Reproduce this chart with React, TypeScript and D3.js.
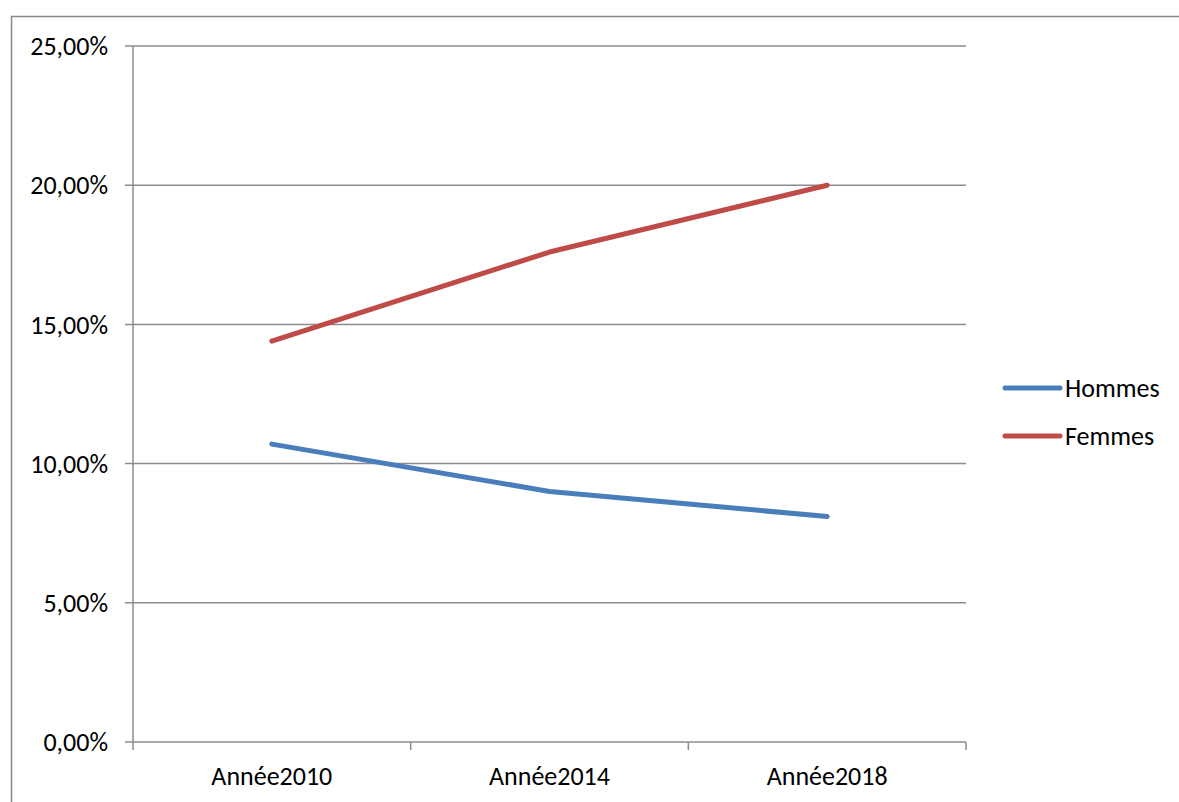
import React from "react";
import * as d3 from "d3";

const categories = ["Année2010", "Année2014", "Année2018"];
const hommes = [10.7, 9.0, 8.1];
const femmes = [14.4, 17.6, 20.0];
const yTicks = [0, 5, 10, 15, 20, 25];
const seriesNames = ["Hommes", "Femmes"];
const seriesColors = ["#4A7EBB", "#BE4B48"];

export default function App() {
  const W = 1179, H = 802;
  const left = 133, right = 966, top = 46, bottom = 742;
  const x = d3.scaleBand().domain(categories).range([left, right]);
  const y = d3.scaleLinear().domain([0, 25]).range([bottom, top]);
  const line = d3.line<number>()
    .x((_, i) => (x(categories[i]) as number) + x.bandwidth() / 2)
    .y((d) => y(d));
  const series = [hommes, femmes];
  const font = "Carlito, Calibri, Lato, 'Liberation Sans', Arial, sans-serif";
  const fmt = (v: number) => v.toFixed(2).replace(".", ",") + "%";
  const boundaries = [...categories.map((c) => x(c) as number), right];
  return (
    <svg width={W} height={H} style={{ position: "absolute", left: 0, top: 0, background: "#fff" }}>
      <rect x={11.5} y={16.5} width={W + 10} height={H + 10} fill="#fff" stroke="#888" strokeWidth={1.5} />
      {yTicks.map((t) => (
        <g key={t}>
          <line x1={left - 8} x2={right} y1={y(t)} y2={y(t)} stroke="#8c8c8c" strokeWidth={1.5} />
          <text x={108} y={y(t)} dy="0.35em" textAnchor="end" fontFamily={font} fontSize={26} fill="#000">{fmt(t)}</text>
        </g>
      ))}
      <line x1={left} x2={left} y1={top} y2={bottom} stroke="#8c8c8c" strokeWidth={1.5} />
      {boundaries.map((b, i) => (
        <line key={i} x1={b} x2={b} y1={bottom} y2={bottom + 8} stroke="#8c8c8c" strokeWidth={1.5} />
      ))}
      {categories.map((c) => (
        <text key={c} x={(x(c) as number) + x.bandwidth() / 2} y={785} textAnchor="middle" fontFamily={font} fontSize={26} fill="#000">{c}</text>
      ))}
      {series.map((s, i) => (
        <path key={i} d={line(s) as string} fill="none" stroke={seriesColors[i]} strokeWidth={5} strokeLinecap="round" strokeLinejoin="round" />
      ))}
      {seriesNames.map((n, i) => (
        <g key={n}>
          <line x1={1005} x2={1060} y1={388 + i * 48} y2={388 + i * 48} stroke={seriesColors[i]} strokeWidth={5} strokeLinecap="round" />
          <text x={1065} y={388 + i * 48} dy="0.35em" fontFamily={font} fontSize={26} fill="#000">{n}</text>
        </g>
      ))}
    </svg>
  );
}
